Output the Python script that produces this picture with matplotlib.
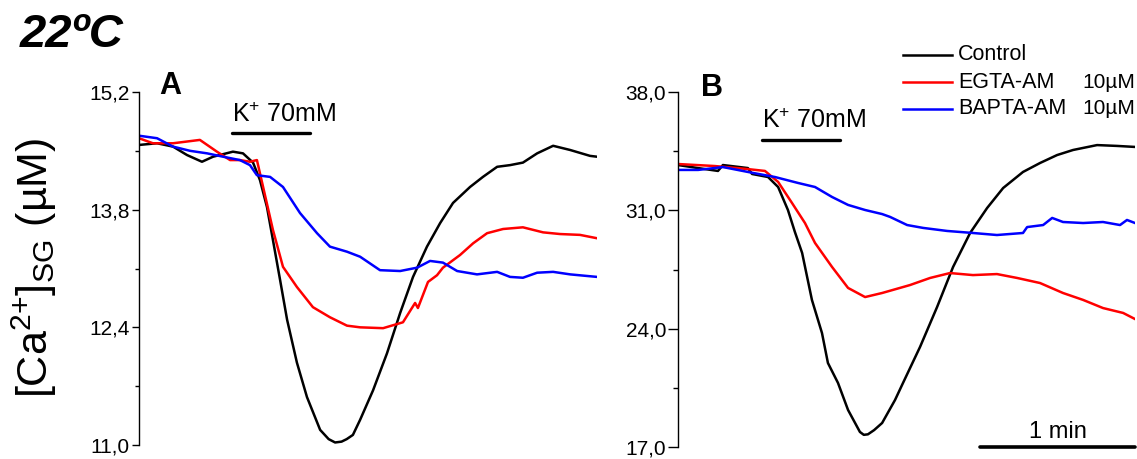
#!/usr/bin/env python3
import numpy as np
import matplotlib
matplotlib.use("Agg")
import matplotlib.pyplot as plt
from matplotlib.ticker import FixedLocator, FuncFormatter

plt.rcParams["font.family"] = ["Liberation Sans", "DejaVu Sans"]
plt.rcParams["mathtext.fontset"] = "custom"
plt.rcParams["mathtext.rm"] = "Liberation Sans"
plt.rcParams["mathtext.it"] = "Liberation Sans:italic"
plt.rcParams["mathtext.bf"] = "Liberation Sans:bold"

# ---- panel A (time in s, [Ca2+]SG in uM) ----
tA_ctrl = [0, 7.0, 13.2, 18.6, 24.4, 28.7, 36.4, 40.3, 44.2, 46.9, 49.6, 51.9, 54.7, 57.4,
           61.2, 65.1, 70.2, 73.5, 76.0, 78.5, 80.5, 82.9, 85.7, 90.7, 96.1, 101.2, 106.2,
           111.6, 116.7, 121.7, 128.3, 133.3, 138.8, 143.8, 148.8, 154.3, 160.5, 167.1,
           174.8, 177.5]
cA_ctrl = [14.57, 14.59, 14.55, 14.45, 14.37, 14.43, 14.49, 14.47, 14.36, 14.15, 13.83, 13.44,
           12.96, 12.49, 11.98, 11.57, 11.18, 11.07, 11.03, 11.04, 11.07, 11.12, 11.30, 11.65,
           12.09, 12.57, 13.00, 13.36, 13.64, 13.88, 14.07, 14.19, 14.31, 14.33, 14.36, 14.47,
           14.56, 14.51, 14.44, 14.43]

tA_egta = [0, 5.4, 13.2, 23.6, 30.2, 35.3, 39.1, 43.0, 45.7, 48.1, 51.9, 55.8, 61.2, 67.4,
           74.0, 80.6, 85.7, 94.6, 102.3, 107.0, 108.1, 112.0, 115.5, 117.8, 124.4, 129.5,
           134.9, 141.1, 148.8, 156.6, 163.2, 170.9, 177.5]
cA_egta = [14.65, 14.59, 14.59, 14.63, 14.49, 14.39, 14.39, 14.37, 14.39, 14.07, 13.56, 13.12,
           12.88, 12.64, 12.52, 12.42, 12.40, 12.39, 12.46, 12.69, 12.63, 12.94, 13.02, 13.11,
           13.26, 13.40, 13.52, 13.57, 13.59, 13.53, 13.51, 13.50, 13.46]

tA_bapta = [0, 7.0, 13.2, 19.8, 26.4, 32.6, 39.1, 43.0, 45.7, 50.8, 55.8, 62.4, 69.0, 74.0,
            80.6, 85.7, 93.4, 101.2, 107.8, 112.8, 117.8, 123.3, 131.0, 138.8, 143.8, 148.8,
            154.3, 160.5, 167.1, 177.5]
cA_bapta = [14.68, 14.65, 14.55, 14.50, 14.47, 14.43, 14.39, 14.33, 14.21, 14.19, 14.07, 13.76,
            13.52, 13.36, 13.30, 13.24, 13.08, 13.07, 13.11, 13.19, 13.17, 13.07, 13.03, 13.06,
            13.00, 12.99, 13.05, 13.06, 13.03, 13.00]

# ---- panel B ----
tB_ctrl = [0, 7.8, 15.5, 17.4, 27.1, 28.7, 34.9, 38.8, 42.6, 45.3, 48.1, 51.9, 55.8, 58.1,
           62.0, 65.9, 70.5, 72.0, 73.6, 76.0, 79.1, 84.1, 87.2, 93.8, 100.4, 106.6, 113.2,
           119.8, 126.0, 133.7, 140.3, 146.9, 153.1, 162.4, 170.2, 177.1]
cB_ctrl = [33.68, 33.50, 33.33, 33.68, 33.50, 33.15, 32.97, 32.38, 31.02, 29.72, 28.48, 25.70,
           23.74, 21.97, 20.79, 19.19, 17.89, 17.72, 17.75, 18.00, 18.42, 19.78, 20.79, 22.92,
           25.28, 27.65, 29.66, 31.14, 32.32, 33.27, 33.80, 34.27, 34.57, 34.86, 34.81, 34.75]

tB_egta = [0, 14.3, 27.1, 33.7, 38.8, 44.2, 49.2, 53.1, 59.7, 65.9, 72.5, 79.1, 86.0, 89.9,
           97.7, 105.4, 114.3, 123.6, 131.4, 140.3, 149.2, 157.0, 164.7, 172.5, 177.1]
cB_egta = [33.74, 33.62, 33.44, 33.33, 32.68, 31.43, 30.25, 29.07, 27.65, 26.41, 25.87, 26.11,
           26.41, 26.58, 27.00, 27.29, 27.17, 27.23, 27.00, 26.70, 26.11, 25.70, 25.22, 24.93, 24.57]

tB_bapta = [0, 7.8, 17.4, 27.1, 37.6, 46.5, 53.1, 59.7, 65.9, 72.5, 79.1, 82.2, 88.8, 95.0,
            104.3, 114.3, 123.6, 133.7, 135.3, 141.5, 145.0, 149.2, 157.0, 164.7, 171.3, 174.0, 177.1]
cB_bapta = [33.39, 33.39, 33.56, 33.27, 32.97, 32.62, 32.38, 31.79, 31.32, 31.02, 30.78, 30.61,
            30.13, 29.96, 29.78, 29.66, 29.54, 29.66, 30.01, 30.13, 30.55, 30.31, 30.25, 30.31,
            30.13, 30.43, 30.25]

labels = ["Control", "EGTA-AM", "BAPTA-AM"]
doses = ["", "10\u00b5M", "10\u00b5M"]
colors = ["black", "#ff0000", "#0000ff"]

W, H = 1137, 459


def box(x0, x1, ytop, ybot):
    return [x0 / W, 1 - ybot / H, (x1 - x0) / W, (ybot - ytop) / H]


def comma(v, pos):
    return f"{v:.1f}".replace(".", ",")


def style_axis(ax, lo, hi, major_len, minor_len):
    for s in ["top", "right", "bottom"]:
        ax.spines[s].set_visible(False)
    ax.spines["left"].set_linewidth(1.0)
    step = (hi - lo) / 3
    ax.yaxis.set_major_locator(FixedLocator([lo + i * step for i in range(4)]))
    ax.yaxis.set_minor_locator(FixedLocator([lo + (i + 0.5) * step for i in range(3)]))
    ax.yaxis.set_major_formatter(FuncFormatter(comma))
    ax.tick_params(axis="y", which="major", length=major_len, width=1, labelsize=15, pad=1.5)
    ax.tick_params(axis="y", which="minor", length=minor_len, width=1)
    ax.set_xticks([])
    ax.set_ylim(lo, hi)
    ax.patch.set_visible(False)


fig = plt.figure(figsize=(W / 100, H / 100), dpi=100)
axA = fig.add_axes(box(139, 597, 92, 445))
axB = fig.add_axes(box(678, 1135, 92, 447))

for t, c, col in zip([tA_ctrl, tA_egta, tA_bapta], [cA_ctrl, cA_egta, cA_bapta], colors):
    axA.plot(t, c, color=col, lw=1.8, solid_joinstyle="round")
for t, c, col in zip([tB_ctrl, tB_egta, tB_bapta], [cB_ctrl, cB_egta, cB_bapta], colors):
    axB.plot(t, c, color=col, lw=1.8, solid_joinstyle="round")

axA.set_xlim(0, 177.5)
axB.set_xlim(0, 177.1)
style_axis(axA, 11.0, 15.2, 5, 3)
style_axis(axB, 17.0, 38.0, 7, 3.5)

# K+ application bars
axA.plot([36.0, 66.3], [14.71, 14.71], color="black", lw=2.4, clip_on=False,
         solid_capstyle="round")
axA.text(36.0, 14.84, "K$^{+}$ 70mM", fontsize=18, ha="left", va="baseline")
axB.plot([32.6, 62.8], [35.16, 35.16], color="black", lw=2.4, clip_on=False,
         solid_capstyle="round")
axB.text(32.6, 35.87, "K$^{+}$ 70mM", fontsize=18, ha="left", va="baseline")

# 1 min scale bar
axB.plot([117.1, 177.1], [17.0, 17.0], color="black", lw=2.6, clip_on=False,
         solid_capstyle="round")
axB.text(147.1, 17.55, "1 min", fontsize=17, ha="center", va="baseline")

# panel letters, title, y label
fig.text(159 / W, 1 - 94 / H, "A", fontsize=22, fontweight="bold", va="baseline")
fig.text(701 / W, 1 - 96 / H, "B", fontsize=22, fontweight="bold", va="baseline")
fig.text(20 / W, 1 - 47 / H, "22\u00baC", fontsize=34, fontweight="bold",
         fontstyle="italic", va="baseline")
fig.text(34 / W, 1 - 268 / H, "[Ca$^{2{+}}$]$_{\\mathregular{SG}}$ (\u00b5M)", fontsize=31,
         rotation=90, ha="center", va="center")

# legend drawn by hand
for i, (lab, dose, col) in enumerate(zip(labels, doses, colors)):
    y = 1 - (55 + 27 * i) / H
    fig.add_artist(plt.Line2D([903 / W, 952 / W], [y, y], color=col, lw=1.8))
    fig.text(958 / W, y, lab, fontsize=15.5, va="center")
    if dose:
        fig.text(1082 / W, y, dose, fontsize=15, va="center", ha="left")

fig.savefig("out.png", dpi=100)
